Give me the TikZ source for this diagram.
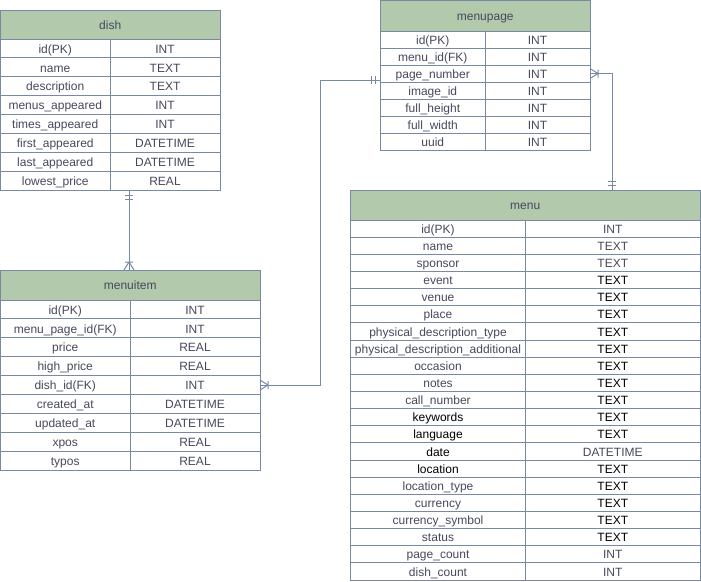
\documentclass[tikz,border=0pt]{standalone}
\usepackage{fontspec}
\setmainfont{Liberation Sans}
\usetikzlibrary{calc}
\definecolor{hdrfill}{HTML}{B2C9AB}
\definecolor{erline}{HTML}{788AA3}
\definecolor{ertext}{HTML}{46495D}
\newcommand\bk[1]{\textcolor{black}{#1}}
\tikzset{
  erbase/.style={draw=erline, line width=1pt, inner sep=0pt, outer sep=0pt,
    text=ertext, font=\fontsize{12}{14}\selectfont, text height=10.2pt, text depth=0.8pt},
  hdr/.style={erbase, fill=hdrfill},
  cell/.style={erbase, fill=white},
  conn/.style={draw=erline, line width=1pt},
}
% #1 name, #2 title, #3 left, #4 divider, #5 right, #6 top, #7 header bottom, #8 row height, #9 rows
\newcommand\ertable[9]{%
  \node[hdr, minimum width={#5-#3}, minimum height={#7-#6}] (#1) at ({(#3+#5)/2},{(#6+#7)/2}) {#2};
  \foreach \a/\b [count=\i] in {#9} {
    \node[cell, minimum width={#4-#3}, minimum height={#8}] (#1-\i-a) at ({(#3+#4)/2},{#7+(\i-0.5)*#8}) {\a};
    \node[cell, minimum width={#5-#4}, minimum height={#8}] (#1-\i-b) at ({(#4+#5)/2},{#7+(\i-0.5)*#8}) {\b};
  }%
}
% mandatory one mark at point #1, direction #2 (pointing away from the table)
\newcommand\onemark[2]{%
  \begin{scope}[shift={(#1)}, rotate=#2]
    \draw[conn] (5,-4) -- (5,4) (9,-4) -- (9,4);
  \end{scope}}
% one-or-many mark
\newcommand\manymark[2]{%
  \begin{scope}[shift={(#1)}, rotate=#2]
    \draw[conn] (8,-4) -- (8,4) (8,0) -- (0,5) (8,0) -- (0,-5);
  \end{scope}}
\begin{document}
\begin{tikzpicture}[x=1pt, y=-1pt]
\useasboundingbox (0,0) rectangle (701,581);

\ertable{dish}{dish}{0.5}{110}{220}{10}{39}{18.875}{%
  id(PK)/INT, name/TEXT, description/TEXT, menus\_appeared/INT, times\_appeared/INT,
  first\_appeared/DATETIME, last\_appeared/DATETIME, lowest\_price/REAL}

\ertable{mp}{menupage}{380.5}{485}{590}{0.5}{31}{17}{%
  id(PK)/INT, menu\_id(FK)/INT, page\_number/INT, image\_id/INT,
  full\_height/INT, full\_width/INT, uuid/INT}

\ertable{mi}{menuitem}{0.5}{130}{260}{270}{300}{18.889}{%
  id(PK)/INT, menu\_page\_id(FK)/INT, price/REAL, high\_price/REAL, dish\_id(FK)/INT,
  created\_at/DATETIME, updated\_at/DATETIME, xpos/REAL, typos/REAL}

\ertable{menu}{menu}{350.5}{525.5}{700}{190.5}{220}{17.143}{%
  id(PK)/INT, name/TEXT, sponsor/TEXT, event/\bk{TEXT}, venue/\bk{TEXT}, place/\bk{TEXT},
  physical\_description\_type/\bk{TEXT}, physical\_description\_additional/\bk{TEXT},
  occasion/\bk{TEXT}, notes/\bk{TEXT}, call\_number/\bk{TEXT}, \bk{keywords}/\bk{TEXT},
  \bk{language}/\bk{TEXT}, \bk{date}/DATETIME, \bk{location}/\bk{TEXT},
  location\_type/\bk{TEXT}, currency/\bk{TEXT}, currency\_symbol/\bk{TEXT},
  status/\bk{TEXT}, page\_count/INT, dish\_count/INT}

% dish -- menuitem
\coordinate (c1s) at ($(dish-8-b.south west)+(19,0)$);
\coordinate (c1e) at (c1s |- mi.north);
\draw[conn] (c1s) -- (c1e);
\onemark{c1s}{-90}
\manymark{c1e}{90}

% menuitem -- menupage
\coordinate (c2e) at ($(mp-3-a.west)+(0,6.5)$);
\draw[conn] (mi-5-b.east) -- ++(60,0) |- (c2e);
\manymark{mi-5-b.east}{0}
\onemark{c2e}{180}

% menupage -- menu
\coordinate (c3e) at ($(menu.north west)+(261.5,0)$);
\draw[conn] (mp-3-b.east) -| (c3e);
\manymark{mp-3-b.east}{0}
\onemark{c3e}{90}
\end{tikzpicture}
\end{document}
